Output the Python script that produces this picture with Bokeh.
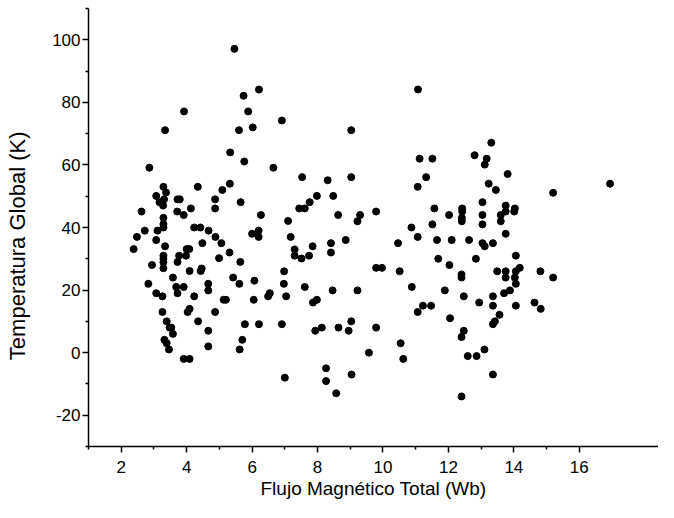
from bokeh.plotting import figure
from bokeh.models import FixedTicker, Range1d, ColumnDataSource
from bokeh.embed import file_html
from bokeh.resources import INLINE

# Flujo magnético total (Wb) and temperatura global (K)
flux_a = [3.92,5.88,3.34,5.60,6.02,6.91,5.33,5.76,6.65,2.86,
          3.29,3.37,3.07,3.31,3.17,3.28,4.34,3.72,3.79,4.87,
          5.09,5.32,5.65,4.87,4.13,3.71,3.91,2.62,3.29,3.29,
          3.29,2.72,3.11,4.23,4.42,4.67,4.88,2.48,3.07,4.48,
          5.06,6.27,6.00,6.20,6.20,2.38,3.34,4.00,4.08,3.29,
          3.29,3.29,3.77,3.98,4.99,5.31,5.64,3.72,2.94,3.29,
          4.09,4.43,4.46,3.58,5.42,6.98,2.83,3.68,3.91,3.72,
          4.66,5.61,6.07,6.97,3.07,3.26,4.23,4.66,5.13,5.20,
          6.05,6.49,6.54,7.04,3.26,4.03,4.09,4.87,3.39,4.35,
          3.48,3.53,3.58,4.66,5.78,6.21,6.91,3.32,3.39,5.70,
          4.66,5.62,3.46,3.91,4.09,7.00,5.46,6.21,5.74]
temp_a = [77.1,77.1,71.1,71.1,72.0,74.2,64.0,61.1,59.1,59.1,
          53.0,51.2,50.1,49.0,48.1,47.0,53.0,49.0,49.0,49.0,
          52.0,54.0,48.1,46.1,46.1,45.1,44.0,45.1,43.1,41.1,
          40.0,39.0,39.0,40.0,40.0,39.0,37.0,37.0,36.0,35.0,
          35.0,44.0,38.0,39.0,37.0,33.1,34.0,33.1,33.1,31.0,
          30.0,28.9,31.0,31.0,30.2,32.0,29.0,29.0,28.0,27.0,
          26.1,26.1,26.9,24.0,24.0,26.0,22.0,21.0,21.0,19.0,
          22.0,22.0,23.0,22.0,19.0,18.0,18.0,19.9,16.9,16.9,
          16.9,18.0,19.0,18.0,13.0,13.0,14.0,13.0,10.0,10.0,
          8.0,8.0,6.0,7.0,9.1,9.1,9.1,4.1,3.0,4.1,
          2.0,1.0,1.0,-2.0,-2.0,-8.0,97.1,84.1,82.1]

flux_b = [9.03,12.80,11.12,11.51,11.32,11.06,7.53,8.31,9.03,7.98,
          8.48,7.76,7.44,7.61,7.10,8.63,9.30,9.22,9.79,11.57,
          12.02,12.42,12.42,12.41,12.41,11.51,10.87,11.06,11.65,12.10,
          12.63,7.18,7.85,8.41,8.41,8.86,7.30,7.30,7.51,7.74,
          10.46,11.69,12.84,12.03,9.79,9.97,10.51,12.40,12.40,7.61,
          8.46,9.22,10.88,11.89,7.86,7.98,12.47,12.94,11.06,11.22,
          11.47,12.05,7.93,8.13,8.64,9.03,8.95,9.79,12.47,12.40,
          10.54,9.57,10.62,12.59,12.86,8.26,8.26,9.04,8.57,12.40,
          11.07]
temp_b = [71.1,63.1,62.0,62.0,56.1,53.0,56.1,55.1,56.1,50.1,
          50.1,48.1,46.1,46.1,42.1,44.0,44.0,42.0,45.1,46.1,
          44.0,46.1,45.1,43.1,42.0,41.0,40.0,37.0,36.0,36.0,
          36.0,37.0,34.0,35.0,32.0,36.0,33.0,31.0,30.1,31.0,
          35.0,30.0,30.0,28.0,27.1,27.1,26.0,25.0,24.0,21.0,
          19.9,19.9,21.0,19.9,16.0,16.9,18.0,16.0,13.0,15.0,
          15.0,11.0,7.0,8.0,8.0,10.0,7.0,8.0,7.0,5.0,
          3.0,0.0,-2.0,-1.1,-1.1,-5.0,-9.1,-7.0,-13.0,-14.0,
          84.1]

flux_c = [13.31,13.17,13.11,13.81,13.23,13.45,15.20,16.94,13.04,13.04,
          13.04,13.75,13.75,13.60,14.03,14.01,13.60,13.75,13.04,13.11,
          13.36,14.06,13.49,13.75,13.75,14.06,14.18,14.03,14.06,14.81,
          15.20,13.88,13.70,13.36,13.36,14.06,14.63,14.82,13.56,13.42,
          13.36,13.10,13.36]
temp_c = [67.1,62.0,60.1,57.1,54.0,52.0,51.1,54.0,48.1,44.0,
          41.0,47.0,45.1,44.0,46.1,45.1,42.0,38.0,35.0,34.0,
          35.0,31.0,26.0,26.0,24.0,26.0,27.1,24.0,22.0,26.0,
          24.0,19.9,19.0,18.0,15.0,15.0,16.0,14.0,12.1,10.0,
          9.1,1.0,-7.0]

x_ticks = [2, 4, 6, 8, 10, 12, 14, 16]
x_minor = [1, 3, 5, 7, 9, 11, 13, 15]
y_ticks = [-20, 0, 20, 40, 60, 80, 100]
y_minor = [-30, -10, 10, 30, 50, 70, 90, 110]

x_label = "Flujo Magnético Total (Wb)"
y_label = "Temperatura Global (K)"

src = ColumnDataSource(dict(x=flux_a + flux_b + flux_c,
                            y=temp_a + temp_b + temp_c))

FONT = "Liberation Sans"

p = figure(width=658, height=502, output_backend="svg", toolbar_location=None,
           x_range=Range1d(1, 18.42), y_range=Range1d(-30, 110),
           min_border_left=88, min_border_right=0, min_border_top=8,
           min_border_bottom=56)
p.outline_line_color = None
p.grid.visible = False
p.background_fill_color = "white"
p.border_fill_color = "white"

p.scatter("x", "y", source=src, size=7, color="black", line_color="black")

p.xaxis.ticker = FixedTicker(ticks=x_ticks, minor_ticks=x_minor)
p.yaxis.ticker = FixedTicker(ticks=y_ticks, minor_ticks=y_minor)
# plain hyphen for negative tick labels, as in the original
p.yaxis.major_label_overrides = {t: str(t) for t in y_ticks}

for ax in (p.xaxis[0], p.yaxis[0]):
    ax.axis_line_color = "black"
    ax.axis_line_width = 1.5
    ax.major_tick_line_color = "black"
    ax.major_tick_line_width = 1.5
    ax.minor_tick_line_color = "black"
    ax.minor_tick_line_width = 1.5
    ax.major_tick_in = 0
    ax.major_tick_out = 6
    ax.minor_tick_in = 0
    ax.minor_tick_out = 3
    ax.major_label_text_font = FONT
    ax.major_label_text_font_size = "17px"
    ax.major_label_text_color = "black"
    ax.axis_label_text_font = FONT
    ax.axis_label_text_font_style = "normal"
    ax.axis_label_text_color = "black"

p.xaxis.axis_label = x_label
# trailing no-break spaces shift the centred title slightly down the axis
p.yaxis.axis_label = y_label + "\u00a0" * 6
p.xaxis.axis_label_text_font_size = "19px"
p.yaxis.axis_label_text_font_size = "22px"
p.xaxis.major_label_standoff = 8
p.xaxis.axis_label_standoff = 2
p.yaxis.major_label_standoff = 2
p.yaxis.axis_label_standoff = 19

open("out.html", "w").write(file_html(p, INLINE))
